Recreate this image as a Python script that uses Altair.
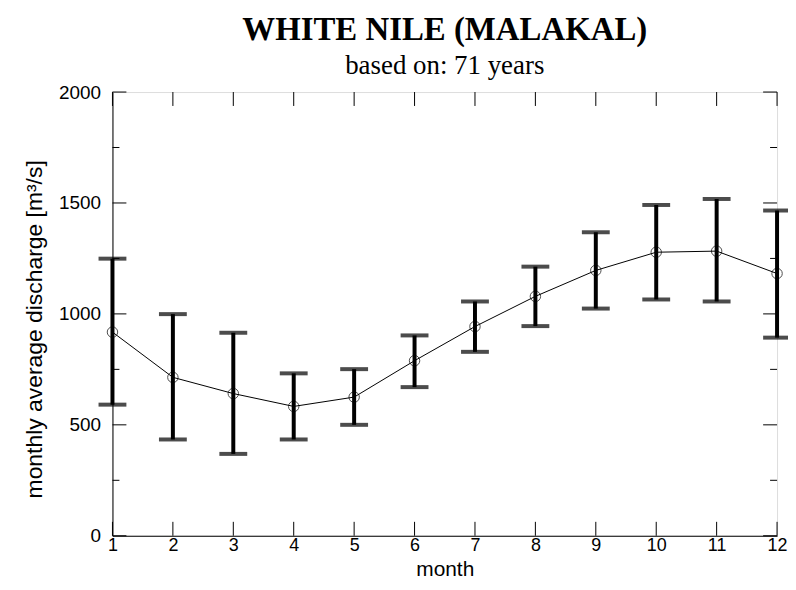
import altair as alt
import pandas as pd

months = [1, 2, 3, 4, 5, 6, 7, 8, 9, 10, 11, 12]
mean_q = [918, 714, 641, 583, 625, 789, 943, 1079, 1196, 1278, 1283, 1182]
upper_q = [1249, 999, 915, 732, 751, 903, 1056, 1213, 1368, 1491, 1518, 1466]
lower_q = [591, 434, 369, 434, 500, 670, 829, 945, 1024, 1065, 1056, 893]

y_major = [0, 500, 1000, 1500, 2000]
y_minor = [250, 750, 1250, 1750]

W, H = 668, 446

df = pd.DataFrame({"month": months, "mean": mean_q, "upper": upper_q, "lower": lower_q})
dmaj = pd.DataFrame({"v": y_major})
dmin = pd.DataFrame({"v": y_minor})
dmon = pd.DataFrame({"m": months})

xs = alt.Scale(domain=[1, 12], nice=False, zero=False)
ys = alt.Scale(domain=[0, 2000], nice=False)

x_axis = alt.Axis(values=months, format="d", tickSize=0, labelFont="Liberation Sans", labelFontSize=18,
                  labelColor="black", labelPadding=1, domainColor="black", grid=False,
                  title="month", titleFont="Liberation Sans", titleFontSize=21,
                  titleFontWeight="normal", titleColor="black", titleBaseline="alphabetic",
                  titleY=40, labelFlush=False)
y_axis = alt.Axis(values=y_major, format="d", tickSize=0, labelFont="Liberation Sans", labelFontSize=19,
                  labelColor="black", labelPadding=12, domainColor="black", grid=False,
                  title="monthly average discharge [m³/s]", titleFont="Liberation Sans",
                  titleFontSize=23, titleFontWeight="normal", titleColor="black",
                  titleBaseline="alphabetic", titleX=-71, titleY=238, titleAlign="center",
                  labelFlush=False)

base = alt.Chart(df)

bars = base.mark_rule(color="black", strokeWidth=4).encode(
    x=alt.X("month:Q", scale=xs, axis=x_axis),
    y=alt.Y("lower:Q", scale=ys, axis=y_axis),
    y2="upper:Q",
)
cap_hi = base.mark_tick(orient="horizontal", color="black", size=28, thickness=4).encode(
    x=alt.X("month:Q", scale=xs), y=alt.Y("upper:Q", scale=ys))
cap_lo = base.mark_tick(orient="horizontal", color="black", size=28, thickness=4).encode(
    x=alt.X("month:Q", scale=xs), y=alt.Y("lower:Q", scale=ys))
line = base.mark_line(color="black", strokeWidth=1).encode(
    x=alt.X("month:Q", scale=xs), y=alt.Y("mean:Q", scale=ys))
pts = base.mark_point(shape="circle", filled=False, color="black", size=110, strokeWidth=1).encode(
    x=alt.X("month:Q", scale=xs), y=alt.Y("mean:Q", scale=ys))

# inward ticks
lt_maj = alt.Chart(dmaj).mark_rule(color="black", strokeWidth=1).encode(
    y=alt.Y("v:Q", scale=ys), x=alt.value(0), x2=alt.value(14))
rt_maj = alt.Chart(dmaj).mark_rule(color="black", strokeWidth=1).encode(
    y=alt.Y("v:Q", scale=ys), x=alt.value(W - 14), x2=alt.value(W))
lt_min = alt.Chart(dmin).mark_rule(color="black", strokeWidth=1).encode(
    y=alt.Y("v:Q", scale=ys), x=alt.value(0), x2=alt.value(7))
rt_min = alt.Chart(dmin).mark_rule(color="black", strokeWidth=1).encode(
    y=alt.Y("v:Q", scale=ys), x=alt.value(W - 7), x2=alt.value(W))
top_t = alt.Chart(dmon).mark_rule(color="black", strokeWidth=1).encode(
    x=alt.X("m:Q", scale=xs), y=alt.value(0), y2=alt.value(14))
bot_t = alt.Chart(dmon).mark_rule(color="black", strokeWidth=1).encode(
    x=alt.X("m:Q", scale=xs), y=alt.value(H - 14), y2=alt.value(H))

chart = alt.layer(bars, cap_hi, cap_lo, line, pts, lt_maj, rt_maj, lt_min, rt_min, top_t, bot_t).properties(
    width=W, height=H,
    autosize=alt.AutoSizeParams(type="none"),
    padding={"left": 105, "top": 83, "right": 11, "bottom": 44},
    title=alt.TitleParams(
        text="WHITE NILE (MALAKAL)", subtitle="based on: 71 years",
        font="Liberation Serif", fontSize=33, fontWeight="bold", color="black",
        subtitleFont="Liberation Serif", subtitleFontSize=27, subtitleColor="black",
        subtitlePadding=6, anchor="middle", offset=4,
    ),
).configure_view(stroke="black", strokeWidth=1).configure(background="white")

chart.save("out.html", embed_options={"renderer": "svg", "actions": False})
